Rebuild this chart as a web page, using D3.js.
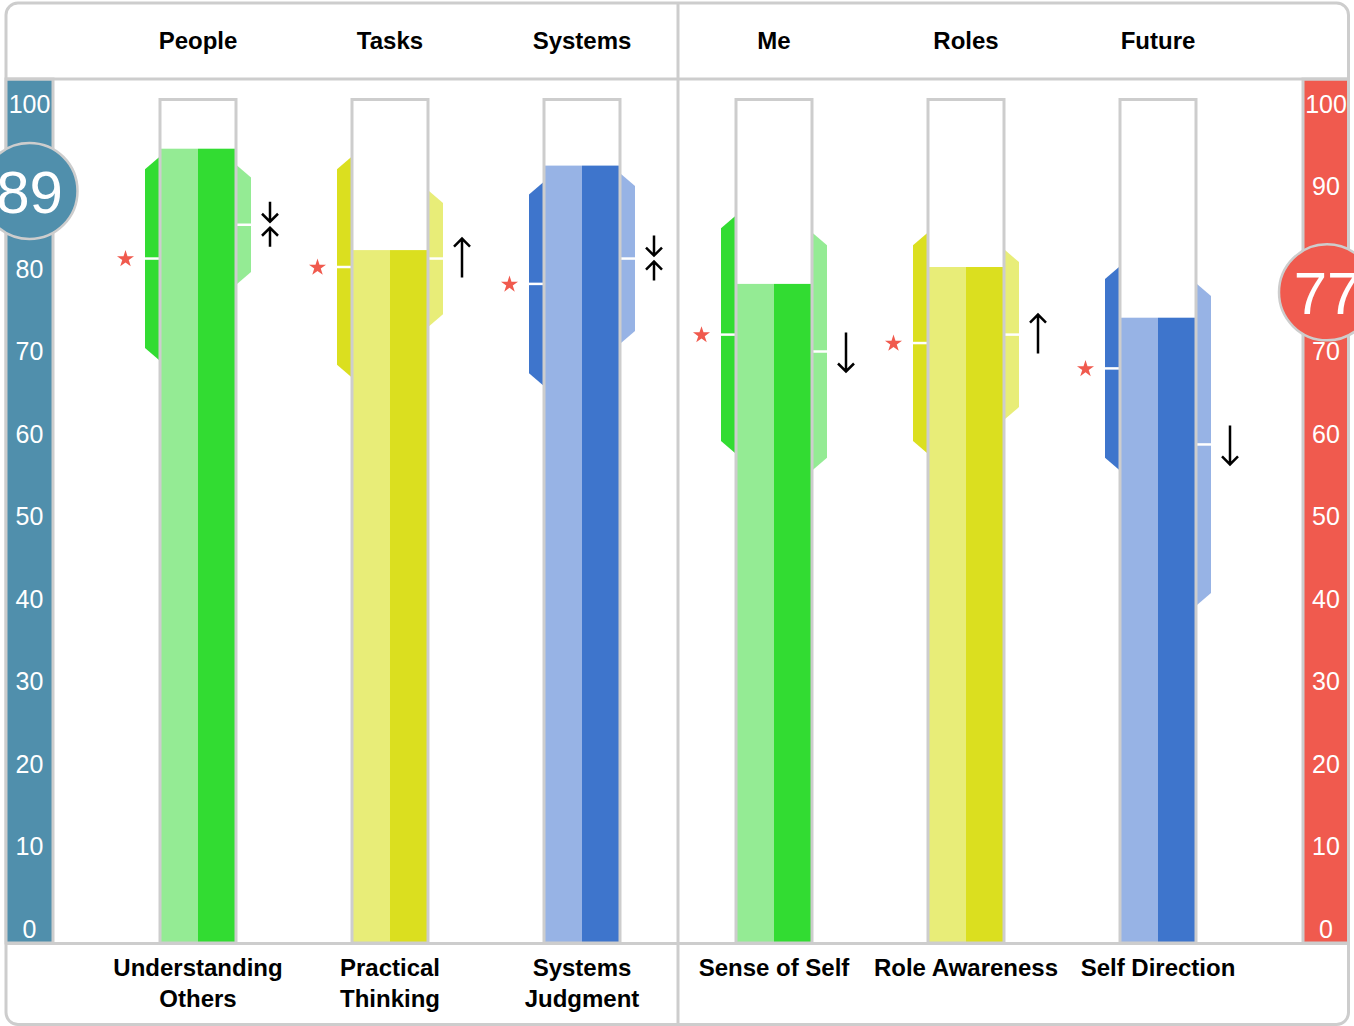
<!DOCTYPE html>
<html>
<head>
<meta charset="utf-8">
<script src="https://cdn.jsdelivr.net/npm/d3@7"></script>
<style>
  body { margin: 0; background: #fff; }
  text { font-family: Arial, "Liberation Sans", Helvetica, sans-serif; }
</style>
</head>
<body>
<div id="chart"></div>
<script>
// values
var groups = ["People", "Tasks", "Systems", "Me", "Roles", "Future"];
var labels = [["Understanding", "Others"], ["Practical", "Thinking"], ["Systems", "Judgment"],
              ["Sense of Self"], ["Role Awareness"], ["Self Direction"]];
var scores = [94, 82, 92, 78, 80, 74];
var leftLow = [69, 67, 66, 58, 58, 56];
var leftHigh = [93, 93, 90, 86, 84, 80];
var leftMark = [81, 80, 78, 72, 71, 68];
var rightLow = [78, 73, 71, 56, 62, 40];
var rightHigh = [92, 89, 91, 84, 82, 78];
var rightMark = [85, 81, 81, 70, 72, 59];
var trend = ["converge", "up", "converge", "down", "up", "down"];
var tickValues = [0, 10, 20, 30, 40, 50, 60, 70, 80, 90, 100];
var leftTotal = 89;
var rightTotal = 77;

var palette = {
    green: {dark: "#32dc32", light: "#94eb94"},
    yellow: {dark: "#dbdf1f", light: "#e8ed78"},
    blue: {dark: "#3e75cc", light: "#97b3e5"}
};
var colKeys = ["green", "yellow", "blue", "green", "yellow", "blue"];

var width = 1354, height = 1026;
var grey = "#cdcdcd";
var blueAxis = "#508fac", redAxis = "#f05a4e";

var svg = d3.select("#chart").append("svg")
    .attr("width", width)
    .attr("height", height);

var yScale = d3.scaleLinear().domain([0, 100]).range([943, 98]);
var tickY = d3.scaleLinear().domain([0, 100]).range([929, 104]);
var xScale = d3.scalePoint().domain(d3.range(6)).range([198, 1158]);

// frame
svg.append("rect")
    .attr("x", 6).attr("y", 3)
    .attr("width", 1342.5).attr("height", 1021.5)
    .attr("rx", 12)
    .attr("fill", "#fff")
    .attr("stroke", grey).attr("stroke-width", 3);

// side axis bars
svg.append("rect").attr("x", 6).attr("y", 79).attr("width", 47).attr("height", 864)
    .attr("fill", blueAxis).attr("stroke", grey).attr("stroke-width", 3);
svg.append("rect").attr("x", 1303).attr("y", 79).attr("width", 45.5).attr("height", 864)
    .attr("fill", redAxis).attr("stroke", grey).attr("stroke-width", 3);

// header/footer rules and divider
svg.append("line").attr("x1", 6).attr("x2", 1348.5).attr("y1", 79).attr("y2", 79)
    .attr("stroke", grey).attr("stroke-width", 3);
svg.append("line").attr("x1", 6).attr("x2", 1348.5).attr("y1", 943.5).attr("y2", 943.5)
    .attr("stroke", grey).attr("stroke-width", 3);
svg.append("line").attr("x1", 678).attr("x2", 678).attr("y1", 3).attr("y2", 1024.5)
    .attr("stroke", grey).attr("stroke-width", 3);

// tick labels
[29.5, 1326].forEach(function (x) {
    svg.append("g").selectAll("text")
        .data(tickValues)
        .enter().append("text")
        .attr("x", x)
        .attr("y", function (d) { return tickY(d); })
        .attr("dy", "0.34em")
        .attr("text-anchor", "middle")
        .attr("fill", "#fff")
        .attr("font-size", 25)
        .text(function (d) { return d; });
});

// headers
svg.append("g").selectAll("text")
    .data(groups)
    .enter().append("text")
    .attr("x", function (d, i) { return xScale(i); })
    .attr("y", 40.5)
    .attr("dy", "0.34em")
    .attr("text-anchor", "middle")
    .attr("font-weight", "bold")
    .attr("font-size", 24)
    .text(function (d) { return d; });

// bottom labels
labels.forEach(function (lines, i) {
    svg.append("text")
        .attr("x", xScale(i))
        .attr("text-anchor", "middle")
        .attr("font-weight", "bold")
        .attr("font-size", 24)
        .selectAll("tspan")
        .data(lines)
        .enter().append("tspan")
        .attr("x", xScale(i))
        .attr("y", function (d, j) { return 967.5 + j * 31; })
        .attr("dy", "0.34em")
        .text(function (d) { return d; });
});

var chamfer = 12;
function band(inner, outer, lo, hi) {
    var yt = yScale(hi), yb = yScale(lo);
    return [[inner, yt], [inner, yb], [outer, yb - chamfer], [outer, yt + chamfer]];
}

function arrow(g, x, tailY, tipY) {
    var dir = tipY > tailY ? 1 : -1;
    g.append("path")
        .attr("d", "M" + x + "," + tailY + "L" + x + "," + tipY +
            "M" + (x - 8) + "," + (tipY - dir * 8) + "L" + x + "," + tipY + "L" + (x + 8) + "," + (tipY - dir * 8))
        .attr("fill", "none")
        .attr("stroke", "#000")
        .attr("stroke-width", 2.5);
}

var star = d3.symbol().type(d3.symbolStar).size(90);

scores.forEach(function (s, i) {
    var cx = xScale(i);
    var c = palette[colKeys[i]];
    var g = svg.append("g");

    // range bands
    g.append("polygon")
        .attr("points", band(cx - 39, cx - 53, leftLow[i], leftHigh[i]).join(" "))
        .attr("fill", c.dark);
    g.append("polygon")
        .attr("points", band(cx + 39, cx + 53, rightLow[i], rightHigh[i]).join(" "))
        .attr("fill", c.light);
    g.append("line")
        .attr("x1", cx - 53).attr("x2", cx - 39)
        .attr("y1", yScale(leftMark[i])).attr("y2", yScale(leftMark[i]))
        .attr("stroke", "#fff").attr("stroke-width", 2.5);
    g.append("line")
        .attr("x1", cx + 39).attr("x2", cx + 53)
        .attr("y1", yScale(rightMark[i])).attr("y2", yScale(rightMark[i]))
        .attr("stroke", "#fff").attr("stroke-width", 2.5);

    // bar
    g.append("rect")
        .attr("x", cx - 38).attr("y", yScale(100) + 1.5)
        .attr("width", 76).attr("height", yScale(0) - yScale(100) - 1.5)
        .attr("fill", "#fff");
    g.append("rect")
        .attr("x", cx - 38).attr("y", yScale(s))
        .attr("width", 38).attr("height", yScale(0) - yScale(s))
        .attr("fill", c.light);
    g.append("rect")
        .attr("x", cx).attr("y", yScale(s))
        .attr("width", 38).attr("height", yScale(0) - yScale(s))
        .attr("fill", c.dark);
    g.append("rect")
        .attr("x", cx - 38).attr("y", yScale(100) + 1.5)
        .attr("width", 76).attr("height", yScale(0) - yScale(100) - 1.5)
        .attr("fill", "none")
        .attr("stroke", grey).attr("stroke-width", 3);

    // star
    g.append("path")
        .attr("d", star)
        .attr("transform", "translate(" + (cx - 72.5) + "," + (yScale(leftMark[i]) + 0.5) + ")")
        .attr("fill", redAxis);

    // trend arrows
    var m = yScale(rightMark[i]), ax = cx + 72;
    if (trend[i] == "converge") {
        arrow(g, ax, m - 23, m - 3);
        arrow(g, ax, m + 22, m + 3);
    } else if (trend[i] == "up") {
        arrow(g, ax, m + 19, m - 20);
    } else {
        arrow(g, ax, m - 19, m + 20);
    }
});

// total circles
[[29.5, leftTotal, blueAxis], [1327, rightTotal, redAxis]].forEach(function (d) {
    svg.append("circle")
        .attr("cx", d[0]).attr("cy", yScale(d[1]))
        .attr("r", 48)
        .attr("fill", d[2])
        .attr("stroke", grey).attr("stroke-width", 2.5);
    svg.append("text")
        .attr("x", d[0]).attr("y", yScale(d[1]))
        .attr("dy", "0.36em")
        .attr("text-anchor", "middle")
        .attr("fill", "#fff")
        .attr("font-size", 60)
        .text(d[1]);
});
</script>
</body>
</html>
